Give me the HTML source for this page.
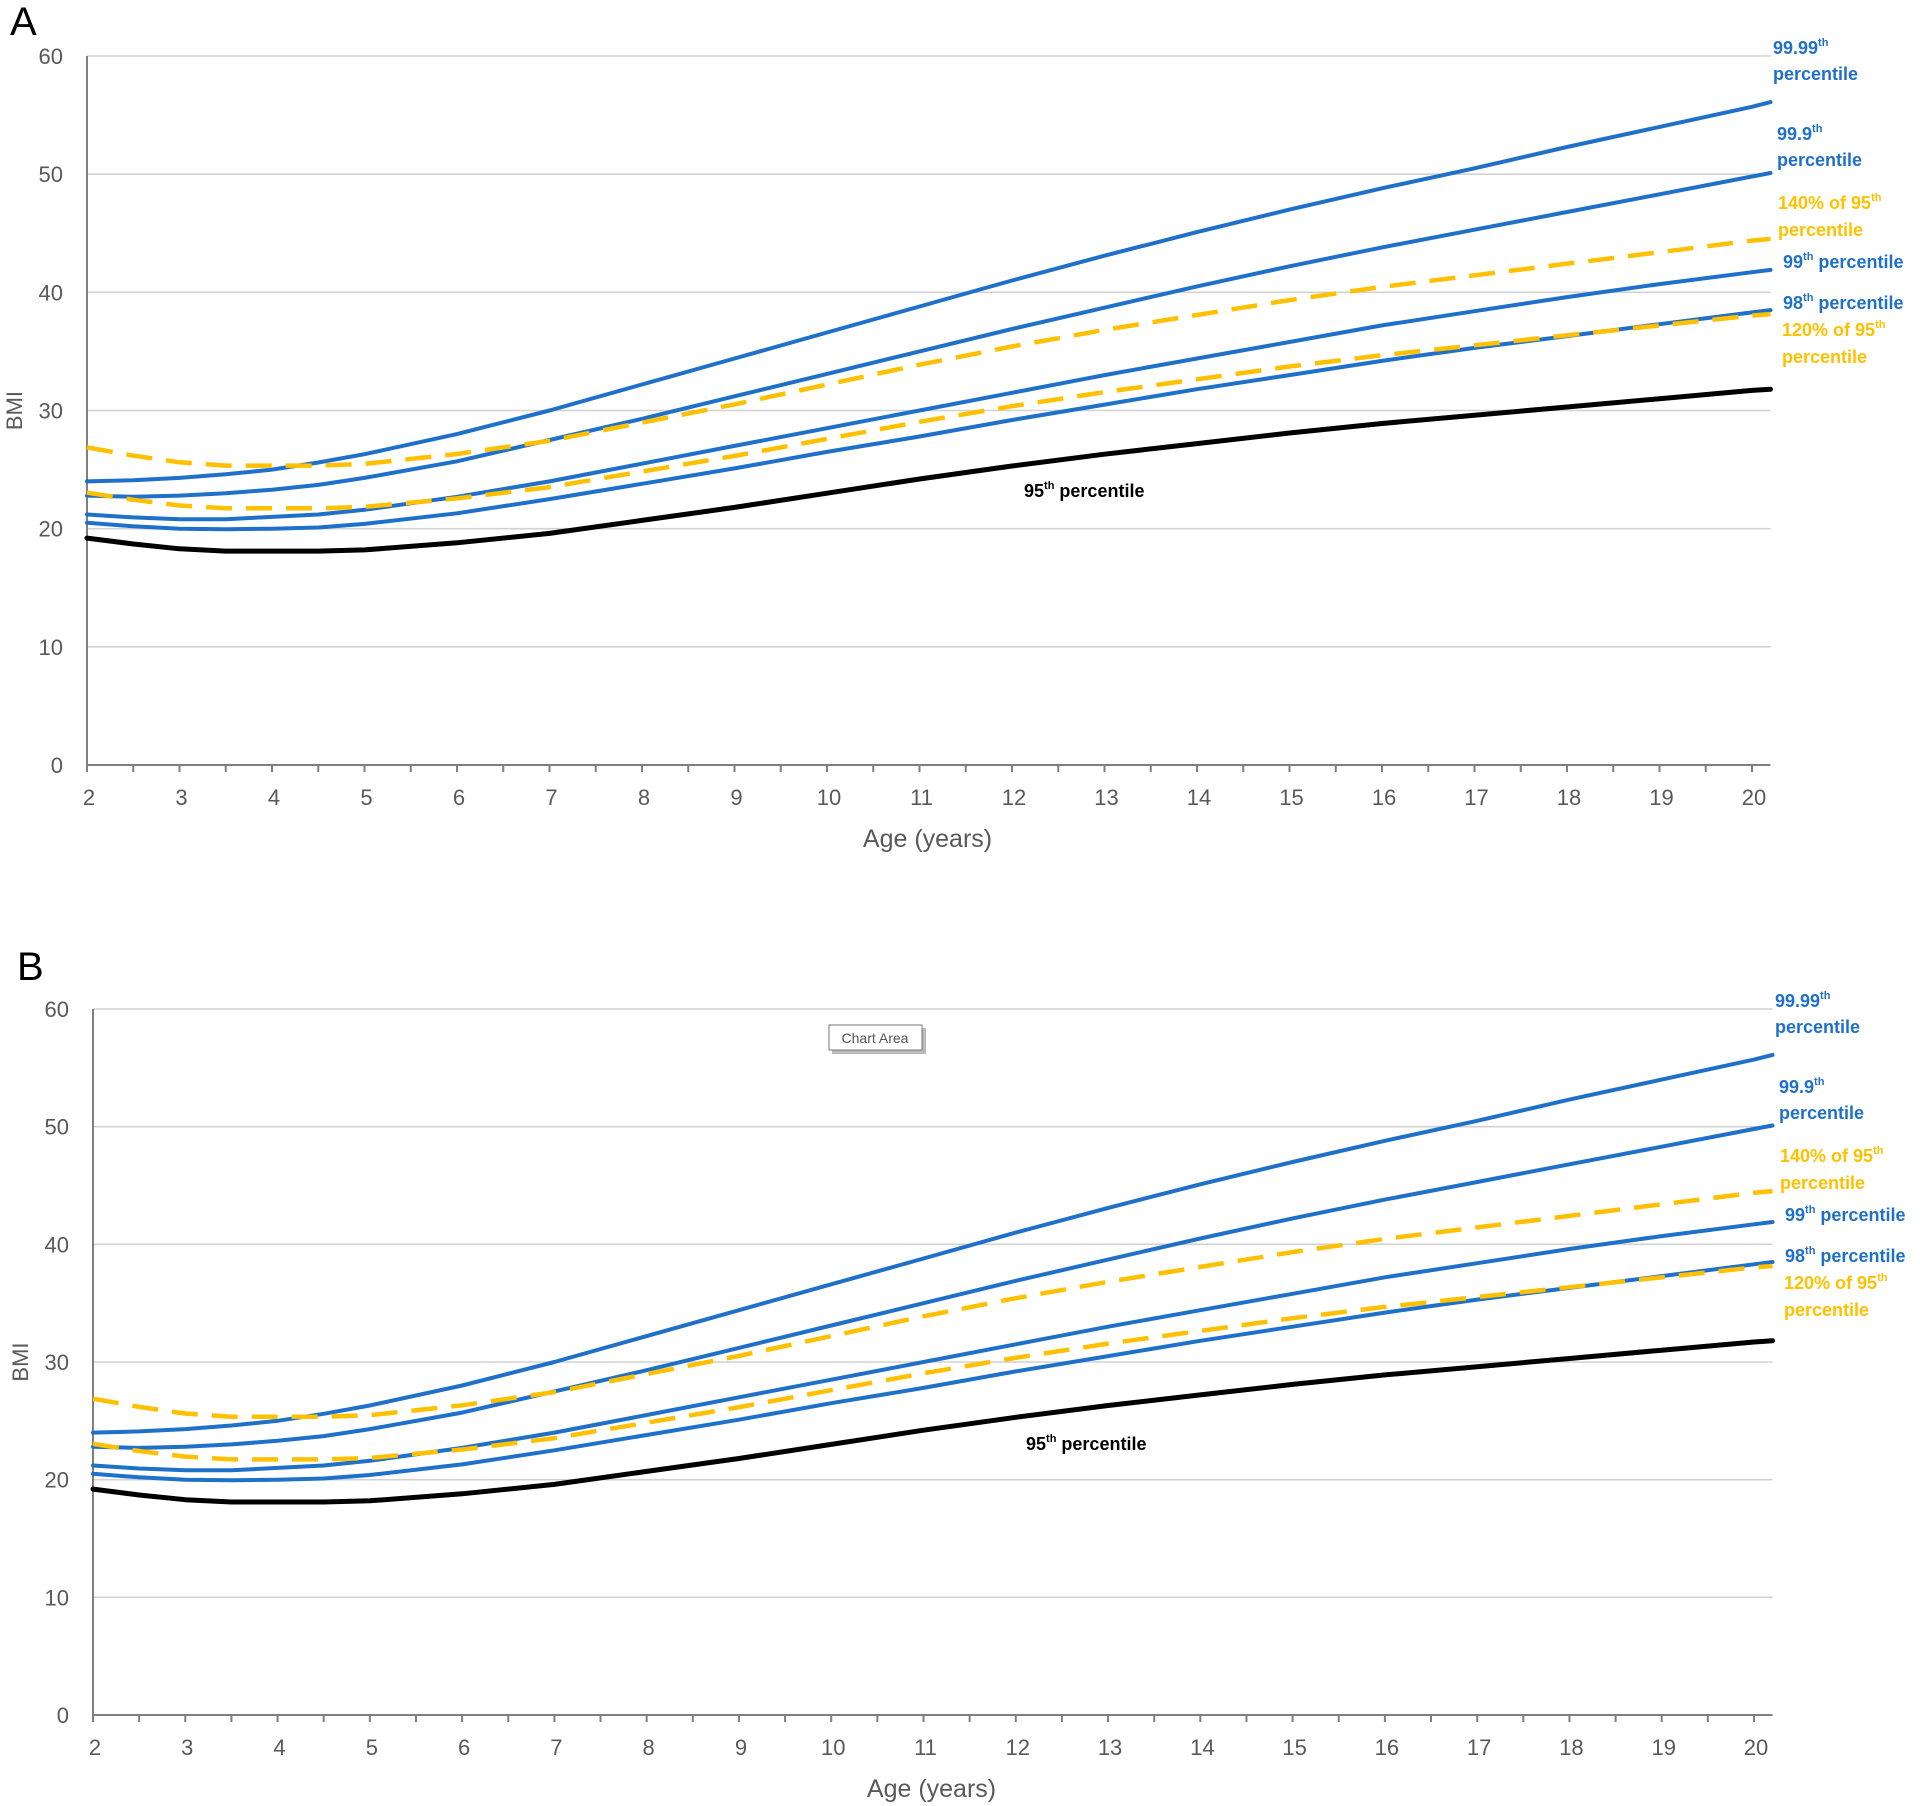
<!DOCTYPE html>
<html><head><meta charset="utf-8"><style>
html,body{margin:0;padding:0;background:#fff;}
svg{display:block;font-family:"Liberation Sans",sans-serif;}
</style></head><body>
<svg id="chart" width="1920" height="1806" viewBox="0 0 1920 1806" xmlns="http://www.w3.org/2000/svg"></svg>
<script>
const ages = [2,2.5,3,3.5,4,4.5,5,6,7,8,9,10,11,12,13,14,15,16,17,18,19,20,20.2];
const p95 = [19.2,18.7,18.3,18.1,18.1,18.1,18.2,18.8,19.6,20.7,21.8,23.0,24.2,25.3,26.3,27.2,28.1,28.9,29.6,30.3,31.0,31.7,31.8];
const p98 = [20.5,20.2,20.0,19.95,20.0,20.1,20.4,21.3,22.5,23.8,25.1,26.5,27.8,29.2,30.5,31.8,33.0,34.2,35.3,36.3,37.3,38.3,38.5];
const p99 = [21.2,20.95,20.8,20.8,21.0,21.2,21.6,22.7,24.0,25.5,27.0,28.5,30.0,31.5,33.0,34.4,35.8,37.2,38.4,39.6,40.7,41.7,41.9];
const p999 = [22.8,22.7,22.8,23.0,23.3,23.7,24.3,25.7,27.5,29.3,31.2,33.1,35.0,36.9,38.7,40.5,42.2,43.8,45.3,46.8,48.3,49.8,50.1];
const p9999 = [24.0,24.1,24.3,24.6,25.0,25.6,26.3,28.0,30.0,32.2,34.4,36.6,38.8,41.0,43.1,45.1,47.0,48.8,50.5,52.3,54.0,55.7,56.1];
const pct120 = [23.04,22.44,21.96,21.72,21.72,21.72,21.84,22.56,23.52,24.84,26.16,27.6,29.04,30.36,31.56,32.64,33.72,34.68,35.52,36.36,37.2,38.04,38.16];
const pct140 = [26.88,26.18,25.62,25.34,25.34,25.34,25.48,26.32,27.44,28.98,30.52,32.2,33.88,35.42,36.82,38.08,39.34,40.46,41.44,42.42,43.4,44.38,44.52];
const yTicks = [0,10,20,30,40,50,60];
const xTicks = [2,3,4,5,6,7,8,9,10,11,12,13,14,15,16,17,18,19,20];

const NS = "http://www.w3.org/2000/svg";
const svg = document.getElementById('chart');
function mk(tag, attrs, parent){
  const e = document.createElementNS(NS, tag);
  for (const k in attrs) e.setAttribute(k, attrs[k]);
  (parent||svg).appendChild(e);
  return e;
}
const BLUE = "#1f70c8", GOLD = "#ffc000";

function panel(P){
  const g = mk('g', {});
  
  
  const xs = v => P.x0 + (v - 2) * (P.x20 - P.x0) / 18;
  const ys = v => P.y0 - v * (P.y0 - P.y60) / 60;
  const right = xs(20.2);
  const letter = mk('text', {x:P.lx, y:P.ly, 'font-size':40, fill:'#000'}, g);
  letter.textContent = P.id;
  
  
  yTicks.forEach(t => {
    if (t > 0) {
      const gl = mk('line', {x1:P.x0, x2:right, y1:ys(t), y2:ys(t), stroke:'#d2d2d2', 'stroke-width':1.6}, g);
      
      
    }
    const tl = mk('text', {x:P.x0 - 24, y:ys(t) + 8, 'font-size':22, fill:'#595959', 'text-anchor':'end'}, g);
    tl.textContent = t;
    
    
  });
  const ax = mk('line', {x1:P.x0, x2:right, y1:P.y0, y2:P.y0, stroke:'#7f7f7f', 'stroke-width':2}, g);
  
  
  const ay = mk('line', {x1:P.x0, x2:P.x0, y1:P.y60, y2:P.y0, stroke:'#7f7f7f', 'stroke-width':2}, g);
  
  
  for (let a = 2; a <= 20.01; a += 0.5) {
    const tk = mk('line', {x1:xs(a), x2:xs(a), y1:P.y0, y2:P.y0 + 7, stroke:'#7f7f7f', 'stroke-width':2}, g);
    
    
  }
  xTicks.forEach(t => {
    const tl = mk('text', {x:xs(t) + 2, y:P.y0 + 40, 'font-size':22, fill:'#595959', 'text-anchor':'middle'}, g);
    tl.textContent = t;
    
    
  });
  const xt = mk('text', {x:(P.x0 + P.x20) / 2 + 8, y:P.y0 + 82, 'font-size':25, fill:'#595959', 'text-anchor':'middle'}, g);
  xt.textContent = 'Age (years)';
  
  
  const yt = mk('text', {x:0, y:0, 'font-size':22, fill:'#595959', 'text-anchor':'middle', transform:`translate(${P.x0 - 65},${(P.y0 + P.y60) / 2}) rotate(-90)`}, g);
  yt.textContent = 'BMI';
  
  

  const series = [
    {name:'line-120pct-95th', data:pct120, color:GOLD, w:4.5, dash:'26 14'},
    {name:'line-140pct-95th', data:pct140, color:GOLD, w:4.5, dash:'26 14'},
    {name:'line-95th', data:p95, color:'#000', w:5},
    {name:'line-98th', data:p98, color:BLUE, w:4},
    {name:'line-99th', data:p99, color:BLUE, w:4},
    {name:'line-99-9th', data:p999, color:BLUE, w:4},
    {name:'line-99-99th', data:p9999, color:BLUE, w:4},
  ];
  // draw blue/black first, then gold dashes on top? gold on top as in reference
  const order = [2,3,4,5,6,0,1];
  order.forEach(i => {
    const s = series[i];
    const pts = ages.map((a, j) => xs(a).toFixed(1) + ',' + ys(s.data[j]).toFixed(1)).join(' ');
    const attrs = {points:pts, fill:'none', stroke:s.color, 'stroke-width':s.w, 'stroke-linejoin':'round', 'stroke-linecap':'round'};
    if (s.dash) { attrs['stroke-dasharray'] = s.dash; attrs['stroke-linecap'] = 'butt'; }
    const pl = mk('polyline', attrs, g);
    
    
  });

  const labels = [
    {t:'99.99', sup:'th', x:1773, y:54, c:BLUE},
    {t:'percentile', x:1773, y:80, c:BLUE},
    {t:'99.9', sup:'th', x:1777, y:140, c:BLUE},
    {t:'percentile', x:1777, y:166, c:BLUE},
    {t:'140% of 95', sup:'th', x:1778, y:209, c:GOLD},
    {t:'percentile', x:1778, y:236, c:GOLD},
    {t:'99', sup:'th', x:1783, y:268, c:BLUE, tail:' percentile'},
    {t:'98', sup:'th', x:1783, y:309, c:BLUE, tail:' percentile'},
    {t:'120% of 95', sup:'th', x:1782, y:336, c:GOLD},
    {t:'percentile', x:1782, y:363, c:GOLD},
    {t:'95', sup:'th', x:1024, y:497, c:'#000', tail:' percentile'},
  ];
  labels.forEach(L => {
    const tx = mk('text', {x:L.x + P.dx, y:L.y + P.dy, 'font-size':18, 'font-weight':'bold', fill:L.c}, g);
    
    
    const a = mk('tspan', {}, tx); a.textContent = L.t;
    if (L.sup) { const s = mk('tspan', {'font-size':11, dy:-8}, tx); s.textContent = L.sup; }
    if (L.tail) { const s = mk('tspan', {dy:8}, tx); s.textContent = L.tail; }
  });
}

panel({id:'A', x0:87, x20:1752, y60:56, y0:765, lx:10, ly:35, dx:0, dy:0});
panel({id:'B', x0:93, x20:1754, y60:1009, y0:1715, lx:17, ly:980, dx:2, dy:953});

const cg = mk('g', {});


mk('rect', {x:832, y:1028, width:94, height:26, fill:'#bbb'}, cg);
mk('rect', {x:829, y:1025, width:93, height:25, fill:'#fff', stroke:'#777', 'stroke-width':1}, cg);
const ct = mk('text', {x:875, y:1043, 'font-size':14, fill:'#555', 'text-anchor':'middle'}, cg);
ct.textContent = 'Chart Area';
</script>
</body></html>
